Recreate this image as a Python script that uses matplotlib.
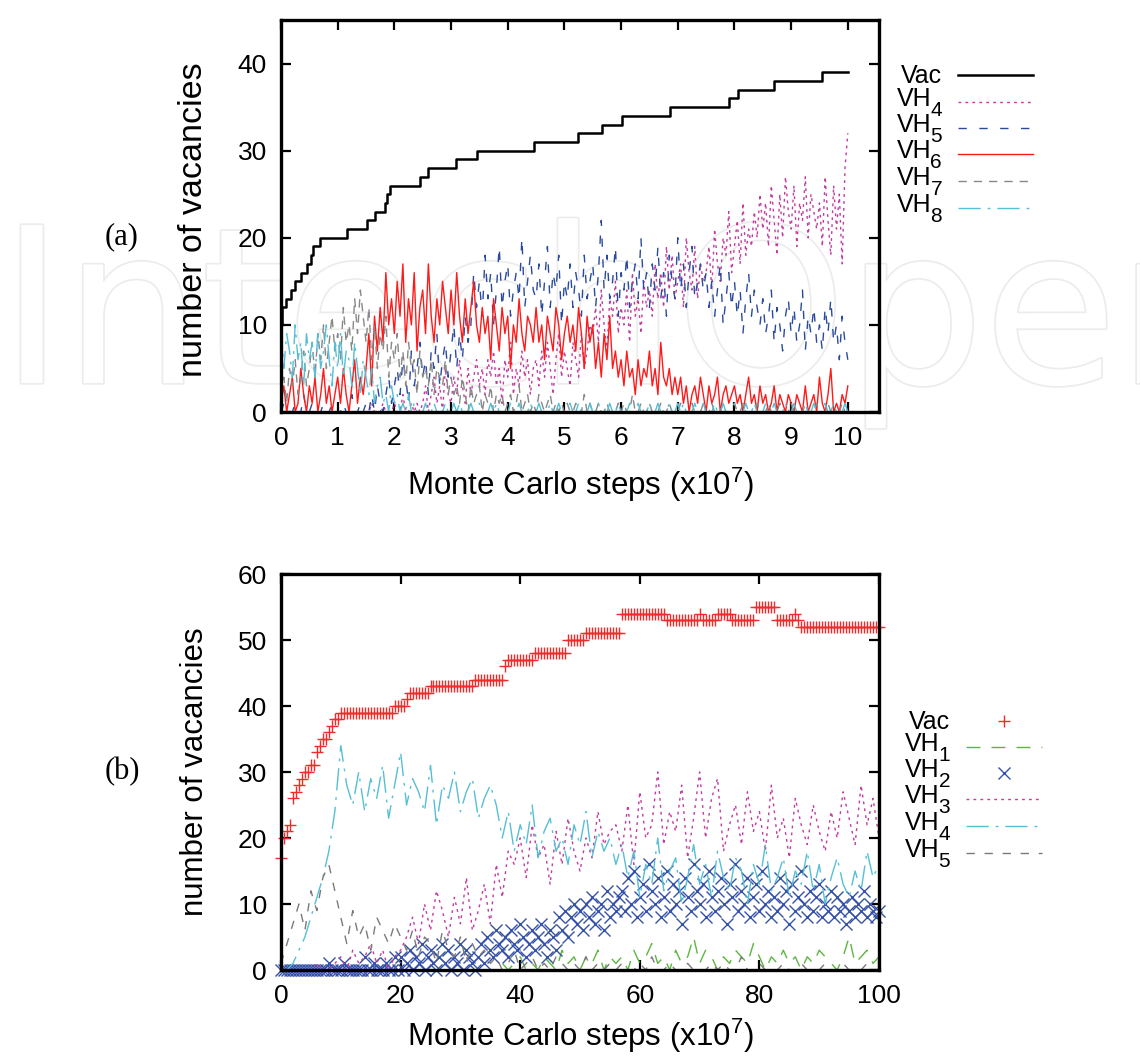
import numpy as np
import matplotlib
matplotlib.use('Agg')
import matplotlib.pyplot as plt
from matplotlib.lines import Line2D
import matplotlib.patheffects as pe

plt.rcParams['font.family'] = ['Liberation Sans', 'DejaVu Sans']
plt.rcParams['mathtext.default'] = 'regular'
plt.rcParams['lines.scale_dashes'] = False

# ---------------- panel (a) data, x in units of 1e7 MC steps ----------------
vac_a_x = [0, 0.02, 0.08, 0.18, 0.25, 0.36, 0.46, 0.53, 0.57, 0.69, 1.17, 1.51, 1.65, 1.83,
           1.87, 1.92, 2.45, 2.59, 3.08, 3.45, 4.47, 5.24, 5.66, 6.02, 6.87, 7.91, 8.07, 8.69,
           9.54, 10.0]
vac_a = [10, 12, 13, 14, 15, 16, 17, 18, 19, 20, 21, 22, 23, 24, 25, 26, 27, 28, 29, 30,
         31, 32, 33, 34, 35, 36, 37, 38, 39, 39]

# noisy populations, sampled every 0.05
vh4_a = ([0] * 30 +
         [0, 0, 1, 0, 0, 0, 1, 0, 0, 0, 1, 0, 0, 2, 0, 0, 1, 0, 1, 0] +
         [1, 3, 0, 2, 4, 1, 3, 0, 5, 2, 1, 4, 2, 6, 3, 1, 5, 2, 4, 6] +
         [3, 5, 2, 6, 4, 7, 3, 5, 1, 6, 4, 8, 2, 5, 3, 7, 4, 6, 2, 5] +
         [6, 3, 7, 4, 8, 5, 2, 6, 9, 4, 7, 5, 3, 8, 6, 4, 9, 5, 7, 10] +
         [9, 12, 8, 14, 10, 7, 13, 11, 15, 9, 12, 10, 14, 8, 16, 11, 13, 9, 15, 12] +
         [14, 11, 17, 13, 16, 12, 19, 14, 18, 13, 15, 17, 12, 20, 16, 14, 19, 13, 17, 15] +
         [16, 19, 14, 21, 17, 15, 20, 18, 23, 16, 19, 22, 17, 24, 18, 21, 19, 23, 20, 25] +
         [21, 24, 19, 26, 22, 18, 25, 20, 27, 23, 21, 26, 19, 24, 22, 27, 20, 25, 23, 21] +
         [24, 19, 27, 22, 18, 26, 21, 25, 17, 28, 32])
vh5_a = ([0, 1, 0, 0, 0, 1, 0, 0, 2, 0, 0, 1, 0, 0, 0, 1, 0, 0, 1, 0] +
         [0, 0, 1, 0, 0, 2, 0, 0, 1, 0] +
         [1, 0, 2, 0, 3, 1, 0, 2, 4, 1] +
         [3, 5, 2, 6, 4, 1, 7, 3, 5, 8, 4, 6, 2, 7, 5, 9, 3, 6, 8, 4] +
         [7, 10, 5, 9, 6, 11, 8, 10, 16, 12] +
         [15, 11, 18, 13, 16, 10, 14, 19, 12, 15, 17, 11, 14, 16, 13, 20, 12, 15, 18, 14] +
         [13, 17, 11, 15, 19, 12, 16, 14, 18, 10, 15, 13, 17, 12, 16, 14, 11, 18, 13, 15] +
         [17, 12, 16, 22, 14, 18, 13, 15, 19, 11, 16, 14, 18, 12, 15, 17, 13, 20, 14, 16] +
         [12, 17, 14, 19, 13, 16, 11, 18, 15, 13, 20, 14, 17, 12, 16, 19, 13, 15, 17, 14] +
         [16, 12, 15, 11, 14, 17, 10, 13, 16, 12, 15, 11, 14, 9, 13, 16, 11, 14, 12, 10] +
         [13, 9, 11, 14, 8, 12, 10, 7, 11, 13, 9, 12, 8, 10, 14, 7, 11, 9, 12, 8] +
         [10, 7, 12, 9, 13, 8, 10, 6, 11, 8, 6])
vh6_a = ([1, 3, 0, 2, 4, 0, 1, 5, 2, 0, 3, 1, 4, 0, 2, 5, 1, 3, 0, 2] +
         [4, 1, 5, 2, 0, 3, 6, 1, 4, 2] +
         [5, 9, 3, 11, 7, 12, 8, 16, 10, 13] +
         [9, 15, 11, 17, 8, 13, 10, 16, 7, 12, 14, 9, 17, 11, 8, 13, 10, 15, 12, 9] +
         [14, 10, 16, 11, 8, 13, 9, 12, 15, 10] +
         [8, 12, 9, 11, 6, 13, 10, 7, 12, 9, 11, 5, 10, 8, 13, 9, 7, 11, 10, 8] +
         [12, 8, 10, 6, 11, 9, 7, 12, 10, 6, 9, 11, 8, 10, 7, 12, 9, 5, 11, 8] +
         [10, 5, 8, 4, 9, 6, 11, 5, 7, 4] +
         [6, 3, 7, 4, 5, 2, 6, 3, 5, 4, 7, 3, 5, 2, 8, 4, 3, 5, 2, 4] +
         [2, 4, 1, 3, 0, 2, 3, 1, 4, 2, 0, 3, 1, 2, 4, 0, 2, 3, 1, 2] +
         [3, 1, 2, 0, 2, 4, 1, 2, 0, 3, 1, 2, 0, 1, 3, 0, 2, 1, 0, 2] +
         [1, 0, 2, 1, 0, 3, 0, 1, 2, 0, 4, 1, 0, 2, 5, 0, 1, 0, 2, 1] +
         [3])
vh7_a = ([2, 4, 1, 5, 3, 6, 2, 4, 7, 3] +
         [5, 8, 4, 9, 6, 10, 5, 8, 11, 7] +
         [9, 6, 12, 8, 10, 7, 13, 9, 14, 11] +
         [8, 12, 6, 10, 5, 9, 7, 11, 4, 8] +
         [6, 9, 4, 7, 3, 8, 5, 6, 2, 7, 4, 5, 3, 6, 2, 5, 4, 3, 6, 2] +
         [4, 2, 3, 1, 4, 2, 0, 3, 1, 2, 3, 0, 2, 1, 3, 0, 2, 1, 2, 0] +
         [1, 2, 0, 1, 3, 0, 1, 2, 0, 1, 0, 2, 1, 0, 1, 2, 0, 1, 0, 1] +
         [0, 1, 0, 0, 1, 0, 0, 2, 0, 1, 0, 0, 1, 0, 0, 1, 0, 0, 0, 1,
          0, 1, 0, 0, 2, 0, 0, 1, 0, 0, 1, 0, 0, 0, 1, 0, 0, 1, 0, 0,
          0, 1, 0, 0, 0, 1, 0, 0, 0, 1, 0, 0, 1, 0, 0, 0, 1, 0, 0, 0,
          1, 0, 0, 1, 0, 0, 0, 0, 1, 0, 0, 0, 1, 0, 0, 0, 1, 0, 0, 0,
          1, 0, 0, 0, 0, 1, 0, 0, 0, 1, 0, 0, 0, 1, 0, 0, 0, 0, 1, 0,
          0])
vh8_a = ([10, 5, 9, 7, 4, 10, 6, 8, 3, 9] +
         [6, 8, 4, 9, 5, 7, 10, 6, 3, 8] +
         [5, 9, 4, 7, 6, 3, 8, 5, 2, 6] +
         [4, 2, 5, 1, 3, 4, 1, 2, 0, 3] +
         [1, 2, 0, 1, 0, 2, 0, 1, 0, 0] +
         [0, 1, 0, 0, 1, 0, 0, 0, 1, 0, 0, 1, 0, 1, 0, 0, 0, 1, 0, 0,
          1, 0, 0, 0, 1, 0, 1, 0, 0, 0, 0, 1, 0, 0, 1, 0, 0, 0, 1, 0,
          0, 1, 0, 0, 0, 1, 0, 0, 1, 0, 0, 0, 1, 0, 0, 1, 0, 0, 0, 1,
          0, 0, 1, 0, 0, 0, 1, 0, 0, 1, 0, 0, 0, 1, 0, 0, 1, 0, 0, 0,
          1, 0, 0, 1, 0, 0, 0, 1, 0, 0, 1, 0, 1, 0, 0, 0, 1, 0, 0, 1,
          0, 0, 0, 1, 0, 0, 1, 0, 0, 0, 1, 0, 0, 0, 1, 0, 0, 1, 0, 0,
          0, 1, 0, 0, 1, 0, 0, 0, 1, 0, 0, 1, 0, 0, 0, 1, 0, 0, 1, 0,
          0, 0, 1, 0, 0, 1, 0, 0, 0, 1, 0])

# ---------------- panel (b) data ----------------
# vacancies and VH2 read every 0.5 (x1e7)
vac_b = ([17, 20, 21, 22, 26, 27, 28, 29, 30, 30] +
         [31, 31, 33, 34, 35, 35, 36, 37, 38, 38] +
         [39] * 18 + [40, 40] +
         [40, 40, 41] + [42] * 7 + [43] * 10 +
         [43] * 5 + [44] * 10 + [46] + [47] * 4 +
         [47] * 5 + [48] * 11 + [50] * 4 +
         [50, 50] + [51] * 12 + [54] * 6 +
         [54] * 9 + [53] * 11 +
         [54] + [53] * 5 + [54] * 5 + [53] * 8 + [55] +
         [55] * 6 + [53] * 6 + [54, 53] + [52] * 6 +
         [52] * 21)
vh2_b = ([0, 0, 0, 0, 0, 0, 0, 0, 0, 0, 0, 0, 0, 0, 0, 0, 1, 0, 0, 0,
          0, 1, 0, 0, 0, 0, 0, 0, 2, 0, 0, 1, 0, 0, 0, 1, 0, 0, 2, 0] +
         [2, 0, 1, 3, 0, 2, 1, 4, 0, 2, 3, 1, 0, 2, 4, 1, 3, 0, 2, 1, 4, 0, 3, 2, 1, 0] +
         [2, 4, 1, 5, 3, 2, 6, 4, 3, 5, 2, 6, 4, 3, 7, 5, 2, 4, 6, 3, 5, 7, 4, 2, 6, 5, 3, 8] +
         [6, 9, 5, 8, 10, 7, 9, 6, 10, 8, 11, 7, 9, 10, 6, 12, 8, 10, 9, 11] +
         [12, 9, 14, 10, 15, 8, 11, 13, 9, 16, 12, 10, 14, 8, 11, 15, 9, 13, 10, 12,
          7, 14, 11, 9, 16, 12, 10, 13, 8, 15, 11, 9, 12, 14, 10, 7, 13, 11, 16, 9,
          12, 10, 14, 8, 11, 13, 9, 15, 10, 12, 8, 11, 9, 14, 10, 12, 7, 13, 9, 11,
          15, 10, 8, 12, 9, 11, 13, 8, 10, 9, 12, 8, 11, 9, 10, 7, 9, 11, 8, 10,
          9, 12, 8, 10, 9, 8, 9])
# remaining populations read every 1 (x1e7)
vh1_b = [0] * 36 + [0, 1, 0, 1, 2, 0, 1, 0, 2, 1, 0, 3, 1, 2, 0, 2, 1, 3, 0, 2,
                    1, 2, 0, 3, 1, 2, 4, 1, 2, 0, 3, 1, 2, 5, 1, 3, 2, 0, 2, 1,
                    3, 2, 1, 4, 2, 0, 2, 1, 3, 1, 2, 0, 2, 1, 3, 2, 1, 0, 2, 5,
                    1, 2, 3, 1, 2]
vh3_b = [0, 0, 0, 0, 0, 0, 1, 0, 0, 1,
         2, 0, 3, 1, 2, 4, 1, 3, 0, 2, 3,
         5, 8, 4, 10, 6, 12, 9, 5, 11, 7, 14, 6,
         9, 13, 7, 16, 11, 18,
         16, 20, 14, 22, 17, 19, 13, 21, 16, 23, 18, 15, 20, 17, 24, 19, 21, 22,
         18, 25, 16, 27, 20, 22, 30, 19, 24, 21, 28, 17, 23, 30, 20, 26, 29, 18, 22, 25,
         19, 27, 21, 24, 18, 28, 20, 23, 17, 26, 22, 19, 25, 21, 18, 24, 20, 27, 23, 19,
         28, 22, 26, 20]
vh4_b = [0, 0, 1, 3, 5, 8, 11, 14, 18, 24,
         34, 28, 25, 30, 24, 29, 26, 31, 23, 28, 33, 25, 29, 27, 24, 31, 22, 28, 26, 30,
         24, 27, 29, 23, 26, 28, 25,
         20, 24, 18, 22, 19, 25, 17, 21, 23, 18, 20, 16, 22, 19, 24, 17, 21, 18, 20, 16, 19,
         14, 18, 11, 16, 13, 20, 12, 15, 17, 10, 14, 19, 13, 16, 11, 18, 14, 12, 17, 15,
         10, 16, 13, 19, 12, 14, 17, 11, 15, 13, 18, 12, 16, 10, 14, 17, 13, 11, 15, 12,
         18, 14, 16]
vh5_b = [1, 4, 7, 10, 6, 12, 9, 14, 16, 12,
         8, 4, 9, 5, 7, 3, 8, 6, 4, 7, 5,
         3, 6, 2, 5, 4, 1, 6, 3, 2, 5, 1, 4, 2, 3, 1,
         2, 0, 1, 3, 0, 1, 2, 0, 1, 0, 2, 1, 0, 1, 0, 2, 0, 1, 0, 1,
         0, 1, 0, 0, 1, 0, 2, 0, 0, 1, 0, 0, 1, 0, 0, 0, 1, 0, 1, 0,
         0, 2, 0, 0, 1, 0, 0, 0, 1, 0, 0, 1, 0, 0, 0, 1, 0, 0, 1, 0,
         0, 0, 1, 0, 0]

W, H = 1140, 1056

C_MAG = '#c23c9e'
C_BLUE = '#2a4a9e'
C_RED = '#ff1a1a'
C_GRAY = '#888888'
C_CYAN = '#55bfd6'
C_GREEN = '#5cb63e'


def fx(px):
    return px / W


def fy(py):
    return 1 - py / H


fig = plt.figure(figsize=(W / 100, H / 100), dpi=100)

# faint publisher watermark behind everything
fig.text(0.0, fy(383), 'IntechOpen', fontsize=156, family='DejaVu Sans', color='white',
         zorder=-5, path_effects=[pe.withStroke(linewidth=2.5, foreground='#ececec')])


def style_axes(ax):
    ax.set_facecolor('none')
    for s in ax.spines.values():
        s.set_linewidth(2.4)
    ax.tick_params(direction='in', length=7, width=1.6, top=True, right=True,
                   labelsize=19, pad=10)


# ---------------- panel (a) ----------------
ax1 = fig.add_axes([fx(281), fy(412), fx(598), 392 / H])
style_axes(ax1)
ax1.plot(vac_a_x, vac_a, drawstyle='steps-post', color='black', lw=1.8)
ax1.plot(np.arange(len(vh4_a)) * 0.05, vh4_a, color=C_MAG, lw=1.0, dashes=(2, 3))
ax1.plot(np.arange(len(vh5_a)) * 0.05, vh5_a, color=C_BLUE, lw=1.0, dashes=(6, 9))
ax1.plot(np.arange(len(vh6_a)) * 0.05, vh6_a, color=C_RED, lw=1.0)
ax1.plot(np.arange(len(vh7_a)) * 0.05, vh7_a, color=C_GRAY, lw=1.0, dashes=(6, 5))
ax1.plot(np.arange(len(vh8_a)) * 0.05, vh8_a, color=C_CYAN, lw=1.0, dashes=(16, 5, 2, 5))
ax1.set_xlim(0, 10.55)
ax1.set_ylim(0, 45)
ax1.set_xticks(range(0, 11))
ax1.set_yticks(range(0, 41, 10))
ax1.set_xlabel('Monte Carlo steps (x10$^7$)', fontsize=22.5, va='center')
ax1.xaxis.set_label_coords(0.5, (412 - 485) / 392)
ax1.set_ylabel('number of vacancies', fontsize=24.5, va='center')
ax1.yaxis.set_label_coords((193 - 281) / 598, (412 - 220) / 392)

# ---------------- panel (b) ----------------
ax2 = fig.add_axes([fx(281), fy(970), fx(598), 396 / H])
style_axes(ax2)
ax2.plot(np.arange(len(vac_b)) * 0.5, vac_b, ls='none', marker='+', ms=9, mew=1.0,
         color='#f22a2a', clip_on=False)
ax2.plot(np.arange(len(vh1_b)), vh1_b, color=C_GREEN, lw=1.0, dashes=(10, 8))
ax2.plot(np.arange(len(vh2_b)) * 0.5, vh2_b, ls='none', marker='x', ms=8.5, mew=1.0,
         color='#3552a8', clip_on=False)
ax2.plot(np.arange(len(vh3_b)), vh3_b, color=C_MAG, lw=1.0, dashes=(2, 3))
ax2.plot(np.arange(len(vh4_b)), vh4_b, color=C_CYAN, lw=1.0, dashes=(16, 5, 2, 5))
ax2.plot(np.arange(len(vh5_b)), vh5_b, color='#7a7a7a', lw=1.0, dashes=(6, 7))
ax2.set_xlim(0, 100)
ax2.set_ylim(0, 60)
ax2.set_xticks(range(0, 101, 20))
ax2.set_yticks(range(0, 61, 10))
ax2.set_xlabel('Monte Carlo steps (x10$^7$)', fontsize=22.5, va='center')
ax2.xaxis.set_label_coords(0.5, (970 - 1036) / 396)
ax2.set_ylabel('number of vacancies', fontsize=22.5, va='center')
ax2.yaxis.set_label_coords((195 - 281) / 598, 0.5)

# panel tags
fig.text(fx(122), fy(237), '(a)', family='Liberation Serif', fontsize=22, ha='center', va='center')
fig.text(fx(122), fy(772), '(b)', family='Liberation Serif', fontsize=22, ha='center', va='center')

# gnuplot-style keys: label right-justified, sample to the right
KEY_FS = 18
SUB_FS = 15


def key(labels, styles, rows, text_right, line_x0, line_x1):
    sub_w = 0.556 * SUB_FS * 100 / 72 - 1
    for (main, sub), st, yl in zip(labels, styles, rows):
        if sub:
            fig.text(fx(text_right - sub_w), fy(yl + 4), main, fontsize=KEY_FS,
                     ha='right', va='baseline')
            fig.text(fx(text_right), fy(yl + 14), sub, fontsize=SUB_FS,
                     ha='right', va='baseline')
        else:
            fig.text(fx(text_right), fy(yl + 8), main, fontsize=KEY_FS,
                     ha='right', va='baseline')
        if 'marker' in st:
            xm = (line_x0 + line_x1) / 2
            fig.add_artist(Line2D([fx(xm)], [fy(yl)], transform=fig.transFigure,
                                  ls='none', **st))
        else:
            fig.add_artist(Line2D([fx(line_x0), fx(line_x1)], [fy(yl), fy(yl)],
                                  transform=fig.transFigure, **st))


key([('Vac', ''), ('VH', '4'), ('VH', '5'), ('VH', '6'), ('VH', '7'), ('VH', '8')],
    [dict(color='black', lw=1.8),
     dict(color=C_MAG, lw=1.0, dashes=(2, 3)),
     dict(color=C_BLUE, lw=1.0, dashes=(6, 9)),
     dict(color=C_RED, lw=1.0),
     dict(color=C_GRAY, lw=1.0, dashes=(6, 5)),
     dict(color=C_CYAN, lw=1.0, dashes=(16, 5, 2, 5))],
    [75, 102, 128, 154, 181, 208], 942, 958, 1033)

key([('Vac', ''), ('VH', '1'), ('VH', '2'), ('VH', '3'), ('VH', '4'), ('VH', '5')],
    [dict(marker='+', ms=9, mew=1.0, color='#f22a2a'),
     dict(color=C_GREEN, lw=1.0, dashes=(10, 8)),
     dict(marker='x', ms=8.5, mew=1.0, color='#3552a8'),
     dict(color=C_MAG, lw=1.0, dashes=(2, 3)),
     dict(color=C_CYAN, lw=1.0, dashes=(16, 5, 2, 5)),
     dict(color='#7a7a7a', lw=1.0, dashes=(6, 7))],
    [721, 747, 773, 799, 826, 853], 950, 966, 1042)

fig.savefig('out.png', dpi=100)
